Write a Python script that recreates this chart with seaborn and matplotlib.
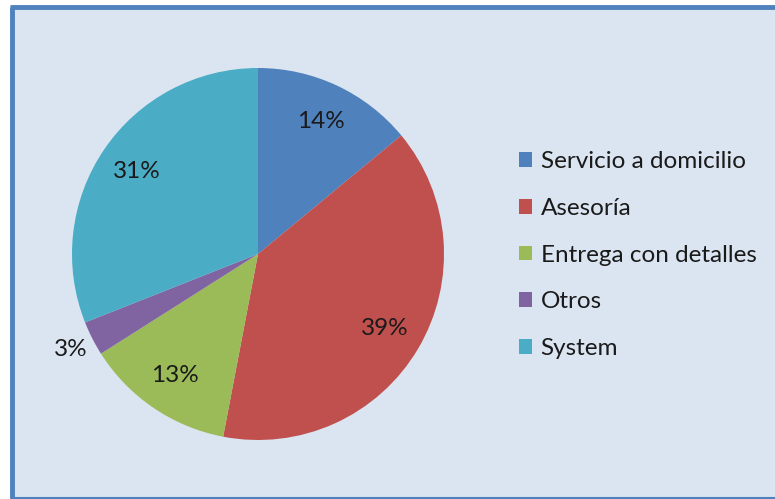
import matplotlib
matplotlib.use("Agg")
import matplotlib.pyplot as plt
import seaborn as sns
from matplotlib.patches import Rectangle
from matplotlib.lines import Line2D

# datos del grafico
categorias = ["Servicio a domicilio", "Asesoría", "Entrega con detalles", "Otros", "System"]
porcentajes = [14, 39, 13, 3, 31]
colores = ["#4F81BD", "#C0504D", "#9BBB59", "#8064A2", "#4BACC6"]

sns.set_theme(style="white")
plt.rcParams["font.family"] = ["Lato", "DejaVu Sans"]

W, H = 775, 499
fig = plt.figure(figsize=(W / 100, H / 100), dpi=100, facecolor="white")

# fondo y borde
fondo = "#DBE5F1"
fig.patches.append(Rectangle((12 / W, 0), 1, (H - 7) / H, transform=fig.transFigure,
                             facecolor=fondo, edgecolor="none", zorder=-5))
borde = "#4F81BD"
fig.lines.append(Line2D([12 / W, 12 / W], [0, (H - 7) / H], transform=fig.transFigure,
                        color=borde, lw=3.5, solid_capstyle="butt", zorder=-4))
fig.lines.append(Line2D([10.3 / W, 1], [(H - 7) / H, (H - 7) / H], transform=fig.transFigure,
                        color=borde, lw=3.5, solid_capstyle="butt", zorder=-4))
fig.lines.append(Line2D([12 / W, 1], [1.5 / H, 1.5 / H], transform=fig.transFigure,
                        color=borde, lw=1.5, solid_capstyle="butt", zorder=-4))

# pastel
cx, cy, r = 258, 254, 186
ax = fig.add_axes([(cx - r) / W, (H - cy - r) / H, 2 * r / W, 2 * r / H])
ax.set_zorder(2)
ax.set_facecolor("none")
wedges, textos, autotextos = ax.pie(
    porcentajes, colors=colores, startangle=90, counterclock=False,
    autopct="%d%%", pctdistance=0.79,
    textprops={"fontsize": 17.5, "color": "#1a1a1a"},
)
for w in wedges:
    w.set_linewidth(0)
# etiqueta del 3% fuera del pastel
x, y = autotextos[3].get_position()
autotextos[3].set_position((x * 1.13 / 0.79, y * 1.13 / 0.79))
ax.set_xlim(-1, 1)
ax.set_ylim(-1, 1)
ax.axis("off")

# leyenda
handles = [Rectangle((0, 0), 1, 1, facecolor=c, edgecolor="none") for c in colores]
leg = fig.legend(handles, categorias, loc="center left",
                 bbox_to_anchor=(497 / W, (H - 255) / H), frameon=False,
                 fontsize=17.5, handlelength=0.56, handleheight=0.56,
                 handletextpad=0.33, labelspacing=1.06)
for t in leg.get_texts():
    t.set_color("#1a1a1a")

fig.savefig("out.png", dpi=100, facecolor="white")
